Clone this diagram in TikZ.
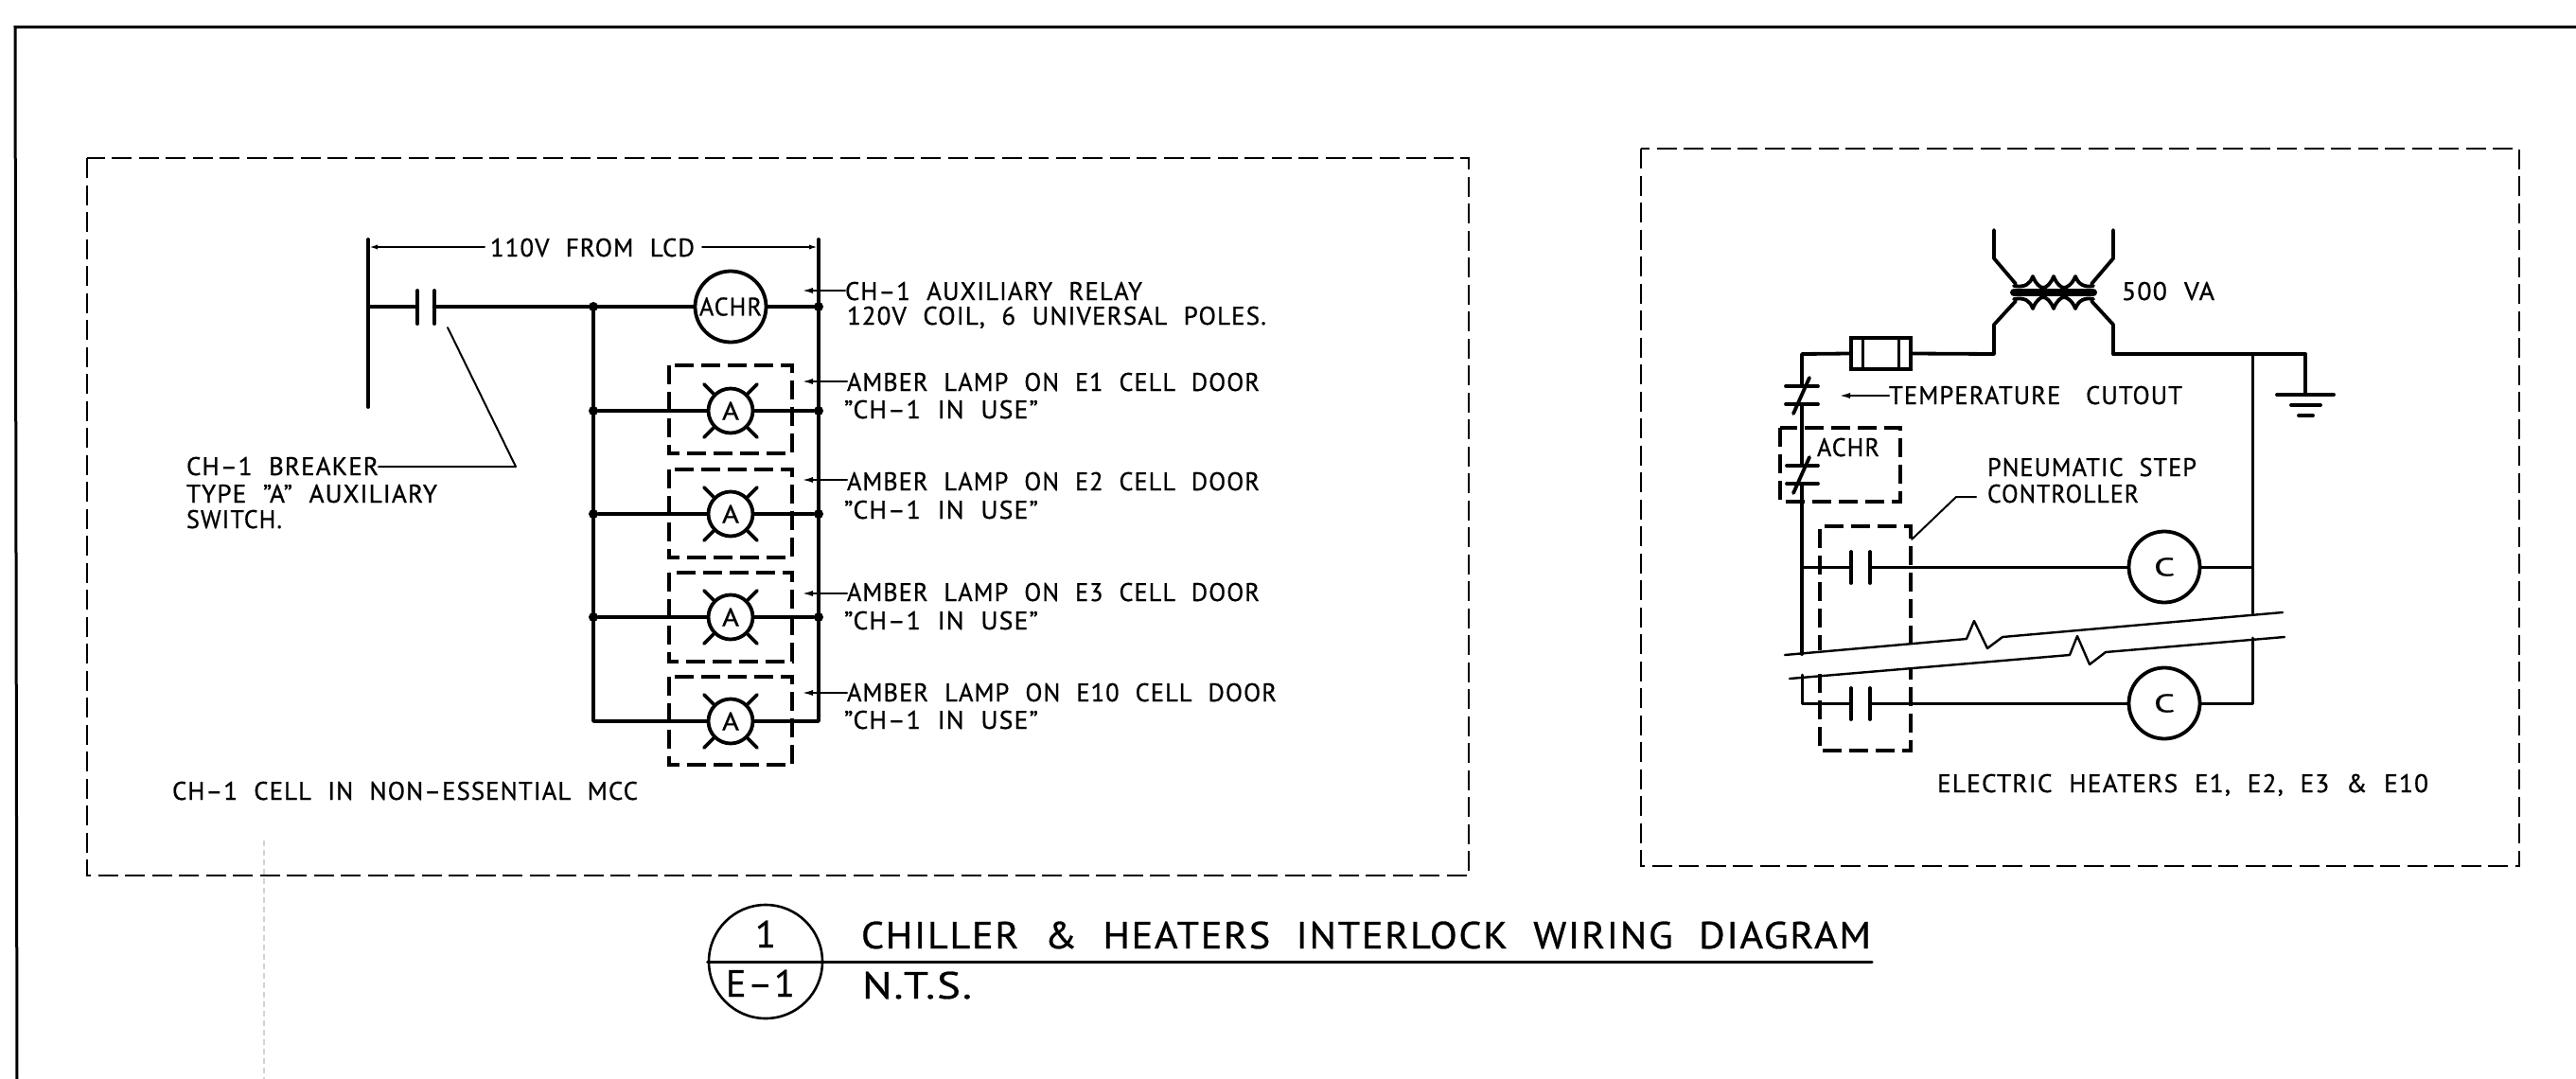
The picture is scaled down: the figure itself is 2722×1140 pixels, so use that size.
\documentclass[tikz,border=0pt]{standalone}
\usepackage{fontspec}
\setmainfont[WordSpace=2.1,LetterSpace=4,FakeBold=0.7]{PT Sans}
\newsavebox{\fitbox}
% \fit{target width in px}{text}: sets the text stretched sideways to the drafted width
\newcommand{\fit}[2]{\sbox{\fitbox}{#2}\pgfmathsetmacro{\fitr}{#1*0.5pt/\wd\fitbox}\scalebox{\fitr}[1]{\usebox{\fitbox}}}
\usetikzlibrary{arrows.meta}
\tikzset{
  x=0.5pt,y=-0.5pt,
  wire/.style={line width=1.9pt,line cap=round,line join=round,black},
  thin wire/.style={line width=1.5pt,line cap=round,line join=round,black},
  lead/.style={line width=1pt,line cap=round,line join=round,black},
  dashbox/.style={line width=1.9pt,black,dash pattern=on 10pt off 4pt},
  bigdash/.style={line width=1.3pt,black,dash pattern=on 10.5pt off 3.75pt},
  coil/.style={circle,draw,line width=1.9pt,minimum size=37.5pt,inner sep=0pt,font=\fontsize{13.5}{13.5}\selectfont},
  lamp/.style={circle,draw,line width=1.9pt,minimum size=23.5pt,inner sep=0pt,font=\fontsize{13.5}{13.5}\selectfont},
  lbl/.style={inner sep=0pt,outer sep=0pt,anchor=base west,font=\fontsize{13.5}{13.5}\selectfont},
  big/.style={inner sep=0pt,outer sep=0pt,anchor=base west,font=\fontsize{20}{20}\selectfont},
  jdot/.style={circle,fill=black,inner sep=0pt,minimum size=5pt},
  arr/.style={lead,-{Latex[length=6pt,width=3pt]}},
}
\begin{document}
\begin{tikzpicture}
\useasboundingbox (0,0) rectangle (2722,1140);
\fill[white] (0,0) rectangle (2722,1140);
% faint scan line
\draw[gray!35,line width=0.7pt,dash pattern=on 3pt off 2pt] (279,888) -- (279,1140);
% sheet frame
\draw[line width=1.5pt] (2722,28.5) -- (16,28.5) -- (18,1140);
% dashed panels
\draw[bigdash] (92,167) rectangle (1552,925);
\draw[bigdash] (1734,157) rectangle (2662,915);

%%% LEFT PANEL
\coordinate (LT) at (389,253); \coordinate (LB) at (389,430); \coordinate (LM) at (389,324);
\coordinate (RT) at (865,253); \coordinate (RM) at (865,324);
\coordinate (BT) at (627,324);
\draw[wire] (LT) -- (LB);
\draw[wire] (RT) -- (RM);
\node[lbl] (vlabel) at (518,271) {\fit{216}{110V FROM LCD}};
\coordinate (DL) at (389,261); \coordinate (DR) at (865,261);
\coordinate (DLe) at (512,261); \coordinate (DRe) at (742,261);
\draw[lead,{Latex[length=5pt,width=2.5pt]}-] (DL) -- (DLe);
\draw[lead,{Latex[length=5pt,width=2.5pt]}-] (DR) -- (DRe);
% contact
\coordinate (P1) at (441,324); \coordinate (P2) at (459,324);
\draw[wire] (441,307) -- (441,342);
\draw[wire] (459,307) -- (459,342);
\node[coil] (ACHR) at (772,324) {\fit{66}{ACHR}};
\draw[wire] (LM) -- (P1);
\draw[wire,line width=2.3pt] (P2) -- (BT) -- (ACHR);
\draw[wire] (ACHR) -- (RM);
\node[jdot] (j0) at (BT) {};
\node[jdot] (k0) at (RM) {};
\foreach \n/\y/\a/\b in {1/434/386/479, 2/543/496/589, 3/652/605/699, 4/762/715/808}{
  \draw[dashbox] (707,\a) rectangle (837,\b);
  \node[lamp] (L\n) at (772,\y) {\fit{18}{A}};
  \foreach \sx in {-1,1}\foreach \sy in {-1,1}{
    \draw[wire] (772+\sx*16.5,\y+\sy*16.5) -- (772+\sx*28,\y+\sy*28);
  }
}
\coordinate (BB) at (627,762); \coordinate (RB) at (865,762);
\draw[wire] (BT) -- (BB) -- (L4);
\draw[wire] (RM) -- (RB) -- (L4);
\foreach \n/\y in {1/434,2/543,3/652}{
  \node[jdot] (jl\n) at (627,\y) {};
  \node[jdot] (jr\n) at (865,\y) {};
  \draw[wire] (jl\n) -- (L\n);
  \draw[wire] (L\n) -- (jr\n);
}
% labels with leader arrows
\node[lbl] (t0a) at (893,317) {\fit{314}{CH--1 AUXILIARY RELAY}};
\node[lbl] (t0b) at (895,343) {\fit{443}{120V COIL, 6 UNIVERSAL POLES.}};
\coordinate (a0) at (847,307); \draw[arr] (t0a.west |- a0) -- (a0);
\foreach \n/\ya/\yb/\yy/\nm in {1/413/442/403/E1,2/518/548/507/E2,3/635/665/627/E3}{
  \node[lbl] (t\n a) at (895,\ya) {\fit{436}{AMBER LAMP ON \nm{} CELL DOOR}};
  \node[lbl] (t\n b) at (892,\yb) {\fit{205}{"CH--1 IN USE"}};
  \coordinate (a\n) at (847,\yy); \draw[arr] (t\n a.west |- a\n) -- (a\n);
}
\node[lbl] (t4a) at (895,741) {\fit{454}{AMBER LAMP ON E10 CELL DOOR}};
\node[lbl] (t4b) at (892,770) {\fit{205}{"CH--1 IN USE"}};
\coordinate (a4) at (847,732); \draw[arr] (t4a.west |- a4) -- (a4);
% breaker label
\node[lbl] (br1) at (197,502) {\fit{203}{CH--1 BREAKER}};
\node[lbl] (br2) at (197,531) {\fit{265}{TYPE "A" AUXILIARY}};
\node[lbl] (br3) at (197,558) {\fit{101}{SWITCH.}};
\coordinate (knee) at (545,493); \coordinate (tip) at (473,346);
\draw[lead] (br1.east |- knee) -- (knee) -- (tip);
\node[lbl] (cell) at (182,845) {\fit{492}{CH--1 CELL IN NON--ESSENTIAL MCC}};

%%% TITLE
\node[circle,draw,line width=1.3pt,minimum size=60pt,inner sep=0pt] (bub) at (809,1016) {};
\coordinate (tEnd) at (1978,1016);
\draw[thin wire] (bub.west) -- (tEnd);
\node[big,anchor=base] (bn) at (809,1001) {1};
\node[big] (be) at (767,1053) {\fit{73}{E--1}};
\node[big] (ti) at (910,1002) {\fit{1067}{CHILLER \& HEATERS INTERLOCK WIRING DIAGRAM}};
\node[big] (nts) at (911,1055) {\fit{116}{N.T.S.}};

%%% RIGHT PANEL
% transformer
\coordinate (TL) at (2107,243); \coordinate (TLb) at (2107,273); \coordinate (TLc) at (2130,300);
\coordinate (TR) at (2233,243); \coordinate (TRb) at (2233,273); \coordinate (TRc) at (2210,300);
\coordinate (BLc) at (2130,318); \coordinate (BLb) at (2107,343); \coordinate (BL) at (2107,374);
\coordinate (BRc) at (2210,318); \coordinate (BRb) at (2233,343); \coordinate (BR) at (2233,374);
\draw[wire] (TL) -- (TLb) -- (TLc);
\draw[wire] (TR) -- (TRb) -- (TRc);
\draw[wire] (BL) -- (BLb) -- (BLc);
\draw[wire] (BR) -- (BRb) -- (BRc);
\draw[line width=4pt,line cap=round] (2128,309) -- (2212,309);
\draw[wire] (2128,302) .. controls (2140,304) and (2145,300) .. (2148,292) .. controls (2151,300) and (2156,304) .. (2159,304) .. controls (2162,304) and (2167,300) .. (2170,292) .. controls (2173,300) and (2178,304) .. (2181,304) .. controls (2184,304) and (2190,300) .. (2193,292) .. controls (2196,300) and (2202,304) .. (2212,302);
\draw[wire] (2128,316) .. controls (2140,314) and (2145,318) .. (2148,326) .. controls (2151,318) and (2156,314) .. (2159,314) .. controls (2162,314) and (2167,318) .. (2170,326) .. controls (2173,318) and (2178,314) .. (2181,314) .. controls (2184,314) and (2190,318) .. (2193,326) .. controls (2196,318) and (2202,314) .. (2212,316);
\node[lbl] (va) at (2242,317) {\fit{98}{500 VA}};
% fuse
\node[draw,line width=1.6pt,minimum width=31.5pt,minimum height=16.5pt,inner sep=0pt] (fuse) at (1987.5,373.5) {};
\draw[thin wire] (1968,357) -- (1968,390);
\draw[thin wire] (2006,357) -- (2006,390);
\coordinate (WL) at (1904,374); \coordinate (GT) at (2436,374); \coordinate (GB) at (2436,417); \coordinate (RV) at (2380,374);
\draw[wire] (fuse.east) -- (BL);
\draw[wire] (BR) -- (GT) -- (GB);
% ground
\draw[wire] (2406,417) -- (2466,417);
\draw[wire] (2421,428) -- (2452,428);
\draw[wire] (2429,439) -- (2444,439);
% left feed
\coordinate (C1a) at (1904,408); \coordinate (C1b) at (1904,427);
\coordinate (C2a) at (1904,492); \coordinate (C2b) at (1904,511);
\coordinate (BrkUL) at (1904,691);
\draw[wire] (fuse.west) -- (WL) -- (C1a);
\draw[wire] (1887,408) -- (1921,408);
\draw[wire] (1887,427) -- (1921,427);
\draw[wire] (1912,399) -- (1895,437);
\draw[wire] (C1b) -- (C2a);
\draw[wire] (1888,492) -- (1921,492);
\draw[wire] (1888,511) -- (1921,511);
\draw[wire] (1912,483) -- (1895,521);
\draw[wire] (C2b) -- (BrkUL);
\draw[dashbox] (1881,452) rectangle (2008,530);
\node[lbl] (achr2) at (1920,482) {\fit{66}{ACHR}};
\node[lbl] (temp) at (1996,427) {\fit{310}{TEMPERATURE\hspace{1em}CUTOUT}};
\coordinate (ta) at (1943,418); \draw[arr] (temp.west |- ta) -- (ta);
\node[lbl] (pn1) at (2100,503) {\fit{221}{PNEUMATIC STEP}};
\node[lbl] (pn2) at (2100,531) {\fit{160}{CONTROLLER}};
% controller box
\draw[dashbox] (2019,681) -- (2019,556) -- (1923,556) -- (1923,687);
\draw[dashbox] (1923,712) -- (1923,793) -- (2019,793) -- (2019,705);
\coordinate (ld0) at (2088,525); \coordinate (ld1) at (2067,525); \coordinate (ld2) at (2020,570);
\draw[lead] (ld0) -- (ld1) -- (ld2);
% rungs
\node[coil] (C1) at (2287,599) {\fit{22}{C}};
\node[coil] (C2) at (2287,743) {\fit{22}{C}};
\coordinate (U1) at (1904,599); \coordinate (U2) at (1956,599); \coordinate (U3) at (1976,599);
\coordinate (V1) at (1904,743); \coordinate (V2) at (1956,743); \coordinate (V3) at (1976,743);
\draw[wire] (1956,583) -- (1956,616);
\draw[wire] (1976,583) -- (1976,616);
\draw[wire] (1956,727) -- (1956,760);
\draw[wire] (1976,727) -- (1976,760);
\draw[thin wire] (U1) -- (U2);
\draw[thin wire] (U3) -- (C1);
\draw[thin wire] (1904,713) -- (V1) -- (V2);
\draw[thin wire] (V3) -- (C2);
\coordinate (RU) at (2380,599); \coordinate (RL) at (2380,743);
\draw[thin wire] (RV) -- (RU) -- (2380,648);
\draw[thin wire] (C1) -- (RU);
\draw[thin wire] (C2) -- (RL) -- (2380,674);
% break lines
\draw[lead,line width=1.2pt] (1886,692) -- (2078,675) -- (2086,656) -- (2100,685) -- (2116,673) -- (2412,647);
\draw[lead,line width=1.2pt] (1891,717) -- (2187,692) -- (2195,672) -- (2208,702) -- (2225,689) -- (2414,673);
\node[lbl] (eh) at (2047,837) {\fit{519}{ELECTRIC HEATERS E1, E2, E3 \& E10}};
\end{tikzpicture}
\end{document}
